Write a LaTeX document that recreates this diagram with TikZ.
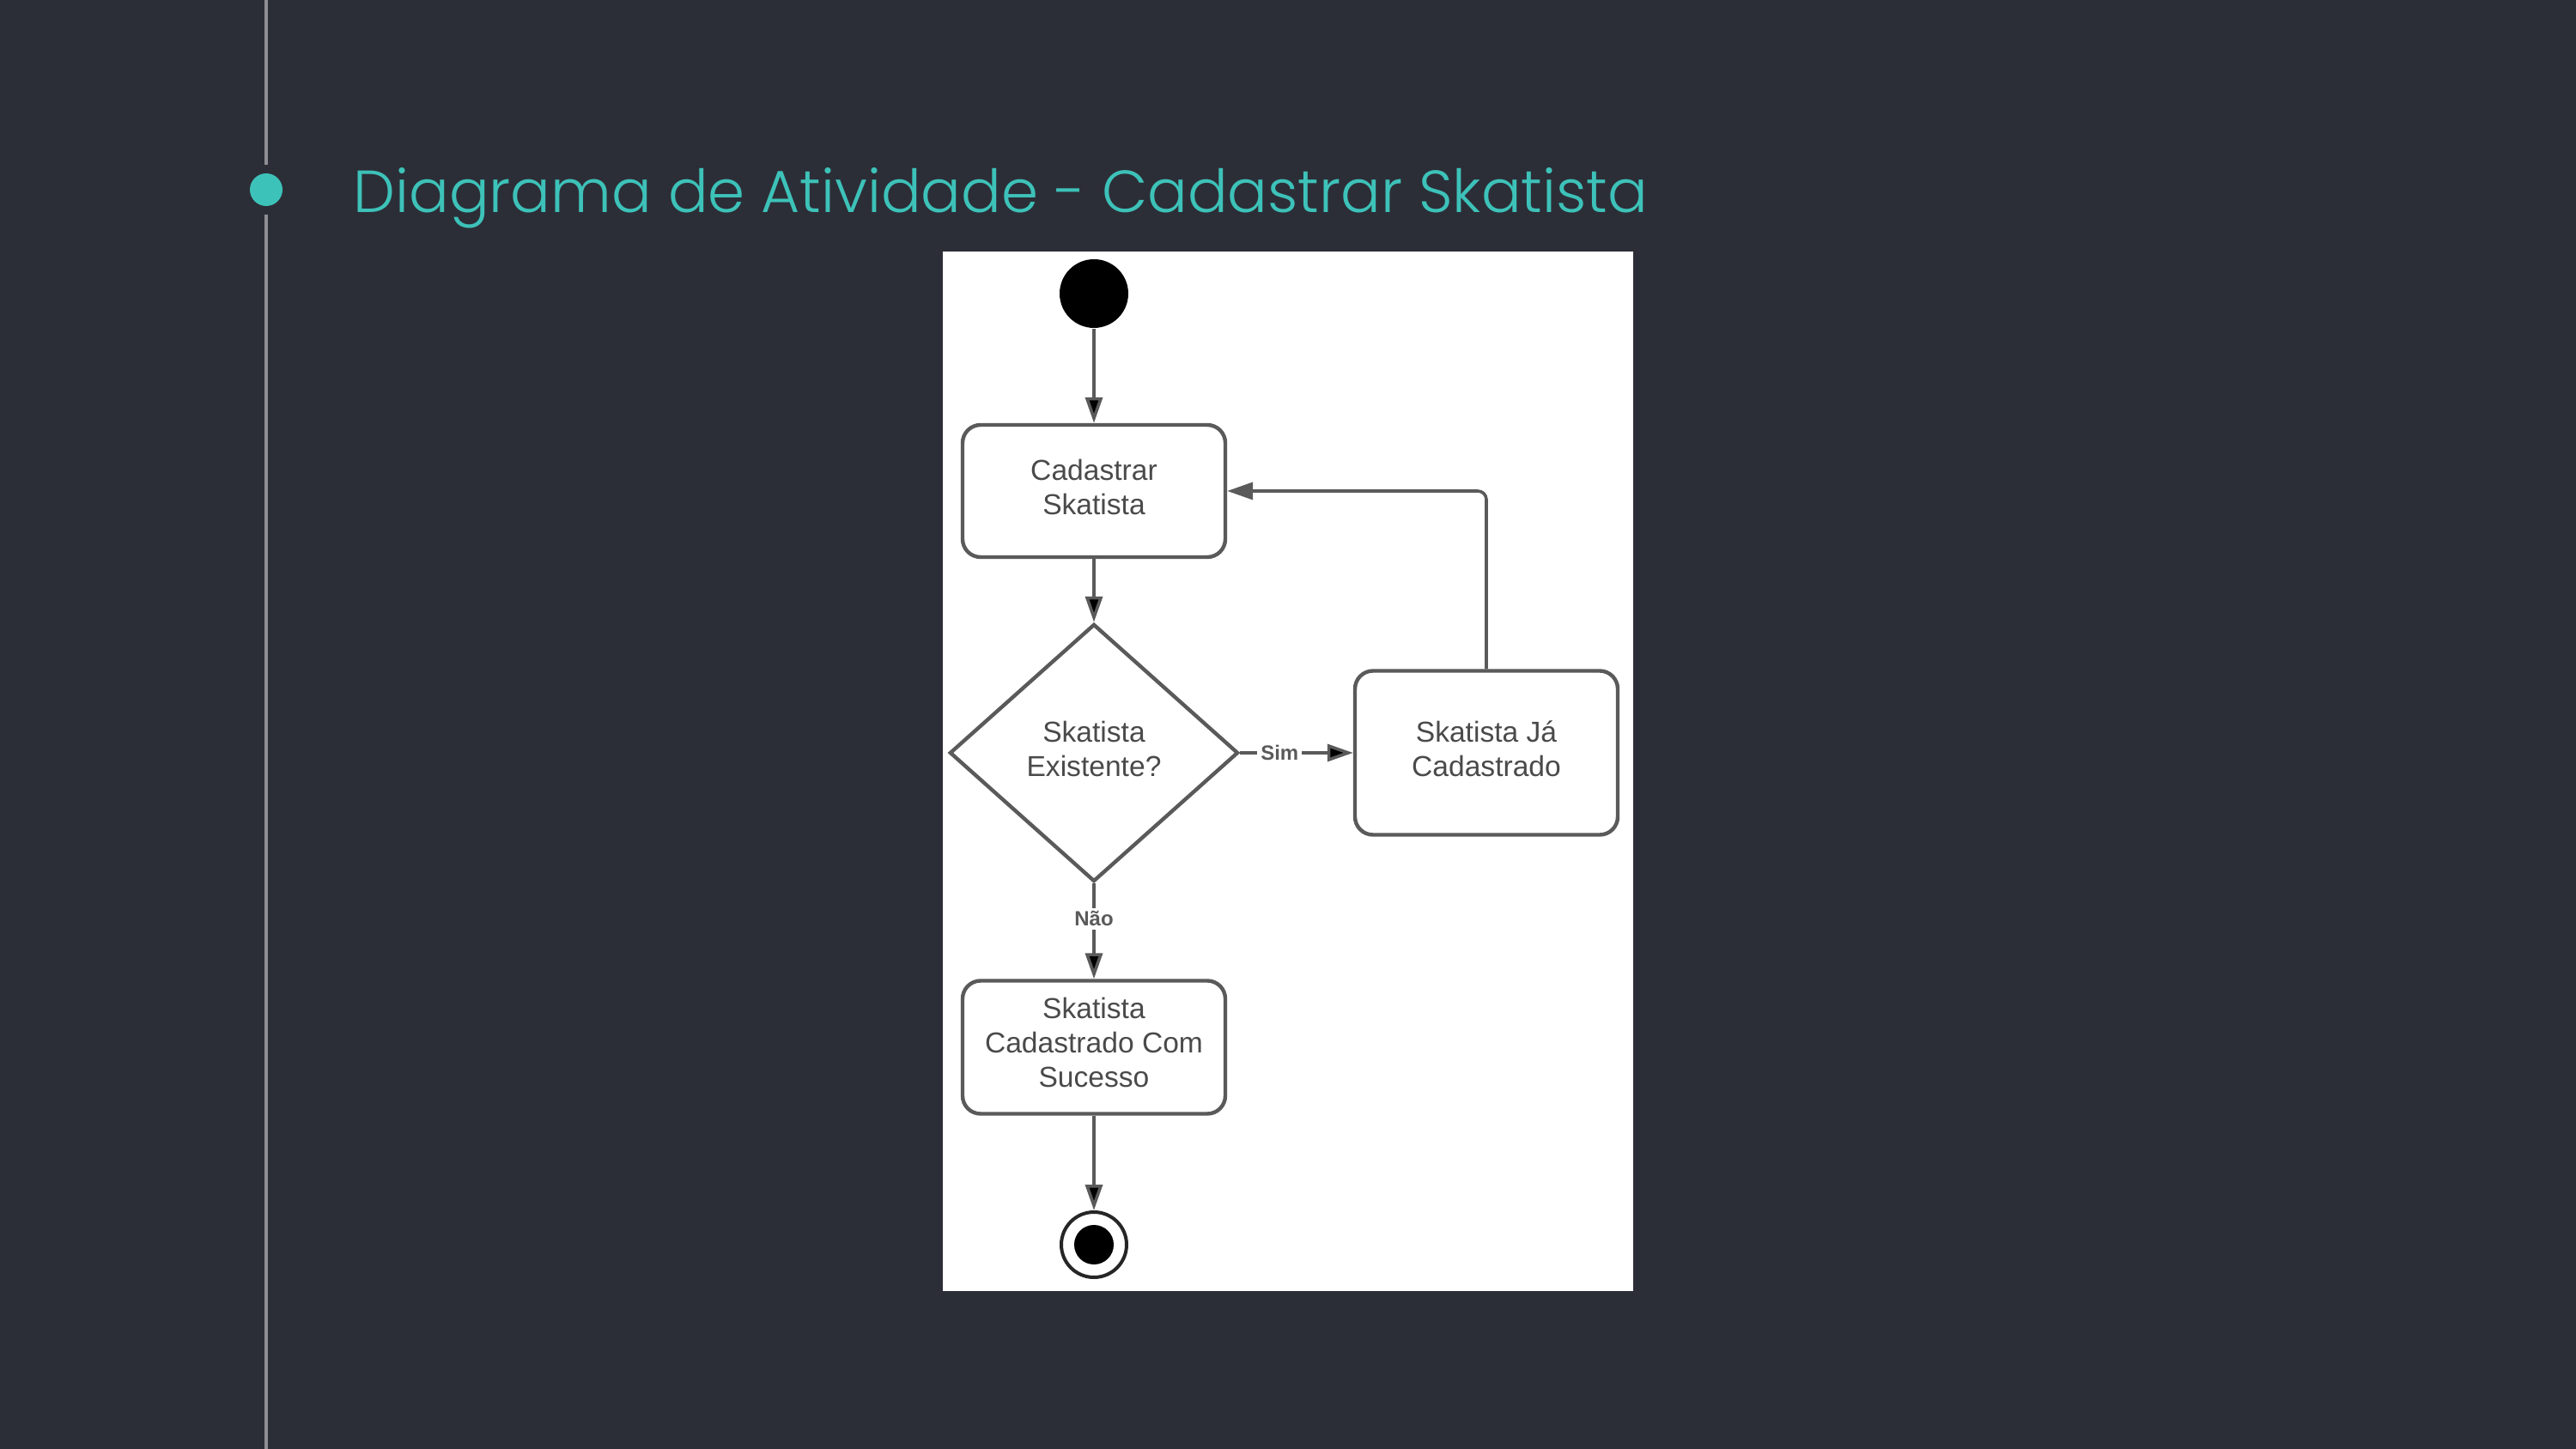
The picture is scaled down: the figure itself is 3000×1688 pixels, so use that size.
\documentclass[tikz,border=0pt]{standalone}
\usepackage{fontspec}
\setmainfont{Liberation Sans}
\newfontfamily\titlefont{Poppins}[UprightFont=* Light]
\usetikzlibrary{arrows.meta, positioning, shapes.geometric}
\definecolor{fundo}{HTML}{2C2E37}
\definecolor{turquesa}{HTML}{3DC2B9}
\definecolor{traco}{HTML}{5A5A5A}
\definecolor{texto}{HTML}{4A4A4A}
\definecolor{guia}{HTML}{8E8F94}
\tikzset{
        ->, % every connector is directed
        >={Triangle[length=7.5pt, width=5pt]}, % long filled heads
        node distance=57.5pt, % centre to centre, start to first activity
        atividade/.style={draw=traco, line width=1.1pt, rounded corners=5.25pt, fill=white, text=texto, align=center, font=\fontsize{8.4}{10}\selectfont, text height=13.6pt, minimum width=76.5pt, minimum height=38.5pt, inner sep=0pt}, % activity boxes
        decisao/.style={diamond, draw=traco, line width=1.1pt, fill=white, text=texto, align=center, font=\fontsize{8.4}{10}\selectfont, text height=13.6pt, minimum width=84pt, minimum height=75pt, inner sep=0pt}, % decision
        inicial/.style={circle, fill=black, minimum size=20pt, inner sep=0pt}, % start dot
        final/.style={circle, draw=black!85, line width=1pt, fill=white, minimum size=19pt, inner sep=0pt, path picture={\fill[black, -] (path picture bounding box.center) circle (5.75pt);}}, % end dot
        rotulo/.style={fill=white, inner sep=1pt, text=traco, font=\bfseries\fontsize{6}{7}\selectfont}, % guard labels
        fluxo/.style={draw=traco, line width=0.9pt}, % connectors
    }
\begin{document}
\begin{tikzpicture}[x=0.25pt, y=-0.25pt]
    \useasboundingbox (0,0) rectangle (3000,1688);
    \fill[fundo, -] (0,0) rectangle (3000,1688);
    \fill[white, -] (1098,293) rectangle (1902,1504);

    % title and side rule
    \coordinate (topo) at (310,0);
    \coordinate (base) at (310,1688);
    \node[circle, fill=turquesa, minimum size=9.5pt, inner sep=0pt] (marca) at (310,221) {};
    \draw[guia, line width=0.8pt, -, shorten >=2.25pt] (topo) -- (marca);
    \draw[guia, line width=0.8pt, -, shorten <=2.25pt] (marca) -- (base);
    \node[anchor=base west, inner sep=0pt, text=turquesa, font=\titlefont\fontsize{17.3}{20}\selectfont] (titulo) at (411,248) {Diagrama de Atividade - Cadastrar Skatista};

    % activity diagram
    \node[inicial] (inicio) at (1274,342) {};
    \node[atividade, below of=inicio] (cad) {Cadastrar\\Skatista};
    \node[decisao, below of=cad, yshift=-18.75pt] (dec) {Skatista\\Existente?};
    \node[atividade, right of=dec, xshift=56.75pt, minimum height=47.75pt] (ja) {Skatista Já\\Cadastrado};
    \node[atividade, below of=dec, yshift=-28.25pt, minimum height=38.75pt, text height=23.1pt] (suc) {Skatista\\Cadastrado Com\\Sucesso};
    \node[final, below of=suc] (fim) {};
    \draw[fluxo]
      (inicio) edge (cad)
      (cad) edge (dec)
      (dec) edge node[rotulo, pos=0.35]{Sim} (ja)
      (dec) edge node[rotulo, pos=0.37]{Não} (suc)
      (suc) edge (fim);
    \draw[fluxo, rounded corners=2.5pt] (ja.north) |- (cad.east);
\end{tikzpicture}
\end{document}
